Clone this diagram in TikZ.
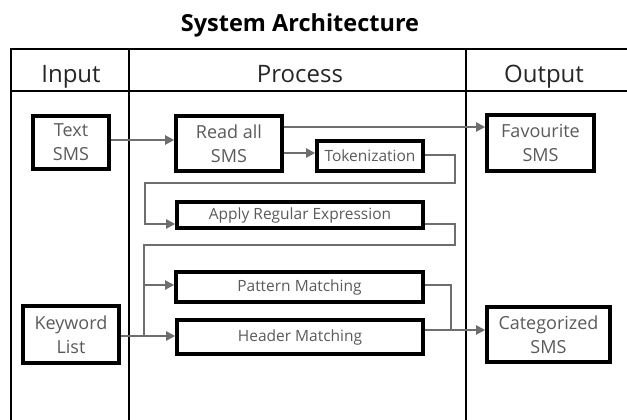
\documentclass[tikz,border=0pt]{standalone}
\usepackage{fontspec}
\setmainfont{Open Sans}
\usepackage{tikz}
\usetikzlibrary{positioning,calc,arrows.meta}
\definecolor{LineGray}{RGB}{110,110,110}
\definecolor{TextGray}{RGB}{90,90,90}

\begin{document}
\begin{tikzpicture}[
        x=1pt, y=-1pt,
        % --- STYLE CÁC HỘP ---
        % Style cho tiêu đề cột
        colhead/.style={
            inner sep=0pt, anchor=base, text=black!85,
            font=\fontsize{24}{28}\selectfont
        },
        % Style cho các hộp xử lý
        procbox/.style={
            rectangle, draw, line width=3.6pt,
            inner sep=0pt, align=center, text=TextGray,
            font=\fontsize{18}{24}\selectfont
        },
        % Style cho hộp một dòng
        slimbox/.style={
            procbox, font=\fontsize{15.5}{18}\selectfont
        },
        % Style cho đường nối có mũi tên
        flow/.style={
            draw=LineGray, line width=2pt,
            -{Triangle[length=9pt,width=9pt]}
        },
        link/.style={draw=LineGray, line width=2pt}
    ]
        \useasboundingbox (0,0) rectangle (627,420);

        % --- TIÊU ĐỀ ---
        \node (title) at (300,25) {\fontsize{23.5}{28}\selectfont\bfseries System Architecture};

        % --- KHUNG BẢNG ---
        \draw[line width=2.5pt] (11,420) -- (11,49) -- (640,49);
        \draw[line width=2.5pt] (11,91) -- (640,91);
        \draw[line width=2.5pt] (129,49) -- (129,420);
        \draw[line width=2.5pt] (466,49) -- (466,420);

        \node[colhead] (hin) at (71,82) {Input};
        \node[colhead] (hproc) at (300,82) {Process};
        \node[colhead] (hout) at (544,82) {Output};

        % --- CÁC HỘP ---
        \node[procbox, minimum width=76, minimum height=53] (textsms) at (71,142.5) {Text\\SMS};
        \node[procbox, minimum width=106, minimum height=55] (readall) at (229,143.5) {Read all\\SMS};
        \node[slimbox, minimum width=106, minimum height=30] (token) at (370,156) {Tokenization};
        \node[procbox, minimum width=107, minimum height=56] (fav) at (540.5,143) {Favourite\\SMS};
        \node[slimbox, minimum width=246, minimum height=26] (regex) at (300,215) {Apply Regular Expression};
        \node[slimbox, minimum width=247, minimum height=30] (pattern) at (299.5,287) {Pattern Matching};
        \node[slimbox, minimum width=246, minimum height=34] (header) at (300,337) {Header Matching};
        \node[procbox, minimum width=96, minimum height=57] (keyword) at (71,334.5) {Keyword\\List};
        \node[procbox, minimum width=123, minimum height=55] (cat) at (548.5,334.5) {Categorized\\SMS};

        % --- ĐIỂM GẤP ---
        \coordinate (tokR) at (455,183);
        \coordinate (tokL) at (145,183);
        \coordinate (regR) at (455,245);
        \coordinate (regL) at (144,245);
        \coordinate (split) at (144,336);
        \coordinate (patR) at (451,285);

        % --- ĐƯỜNG NỐI ---
        \draw[flow] (textsms.east |- 0,140) -- (readall.west |- 0,140);
        \draw[flow] (readall.east |- 0,127) -- (fav.west |- 0,127);
        \draw[flow] (readall.east |- 0,153) -- (token.west |- 0,153);
        \draw[flow] (token.east |- 0,155) -| (tokR) -- (tokL) |- (regex.west |- 0,224);
        \draw[link] (regex.east |- 0,224) -| (regR) -- (regL) -- (split);
        \draw[flow] (keyword.east |- split) -- (header.west |- split);
        \draw[flow] (regL |- patR) -- (pattern.west |- patR);
        \draw[link] (pattern.east |- patR) -| (patR |- 0,330);
        \draw[flow] (header.east |- 0,330) -- (cat.west |- 0,330);

    \end{tikzpicture}
\end{document}
